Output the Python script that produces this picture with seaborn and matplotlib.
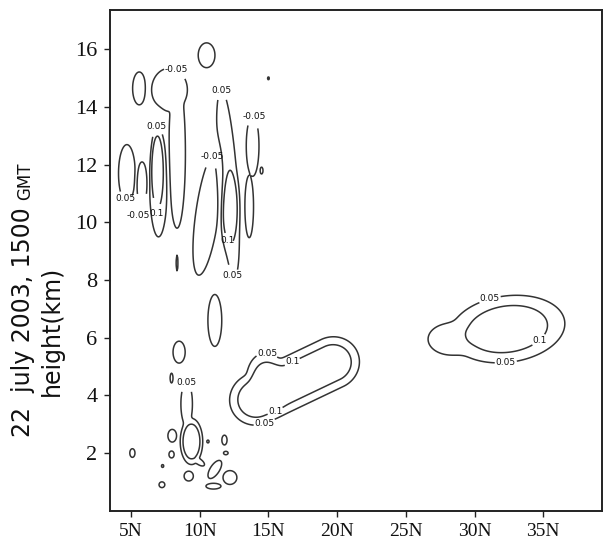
import numpy as np
import matplotlib
matplotlib.use("Agg")
import matplotlib.pyplot as plt
import seaborn as sns

# contour blobs:
# centre (deg N, km), half axes of the outer contour (km, 1 deg N ~ 0.476 km on screen),
# straight middle part along the first axis (km), tilt of the first axis (deg), peak value
blob_lat    = [10.5, 5.6, 8.35, 7.8, 4.7, 5.8, 7.0, 6.92, 10.55, 12.05, 12.2,
               13.85, 13.6, 14.5, 15.0, 8.35, 11.1, 8.5, 7.95, 9.4, 9.05,
               8.0, 5.1, 7.95, 7.25, 9.2, 11.8, 11.9, 11.1, 12.2, 11.0,
               10.6, 7.3, 16.9, 15.0, 32.4, 28.3, 9.95]
blob_height = [15.8, 14.65, 12.4, 14.6, 11.7, 11.35, 11.35, 11.8, 10.3, 11.35, 10.5,
               12.65, 10.55, 11.8, 15.0, 8.6, 6.6, 5.5, 4.6, 2.4, 3.7,
               2.6, 2.0, 1.95, 0.9, 1.2, 2.45, 2.0, 1.43, 1.15, 0.85,
               2.4, 1.55, 4.5, 4.4, 6.3, 5.95, 1.7]
blob_semi_u = [0.29, 0.23, 2.6, 0.62, 0.29, 0.19, 0.31, 0.24, 2.15, 3.25, 0.34,
               0.22, 0.15, 0.05, 0.03, 0.03, 0.24, 0.21, 0.05, 0.39, 0.2,
               0.15, 0.09, 0.09, 0.1, 0.16, 0.09, 0.08, 0.36, 0.24, 0.26,
               0.04, 0.04, 0.95, 0.75, 2.0, 0.8, 0.22]
blob_semi_v = [0.43, 0.57, 0.29, 0.75, 1.0, 0.75, 1.85, 1.5, 0.4, 0.33, 1.57,
               1.05, 1.08, 0.12, 0.05, 0.28, 0.9, 0.38, 0.17, 0.8, 0.75,
               0.22, 0.15, 0.12, 0.1, 0.17, 0.17, 0.06, 0.16, 0.24, 0.1,
               0.05, 0.05, 0.9, 1.08, 1.15, 0.55, 0.1]
blob_straight = [0, 0, 0, 0, 0, 0, 0, 0, 0, 0, 0,
                 0, 0, 0, 0, 0, 0, 0, 0, 0, 0,
                 0, 0, 0, 0, 0, 0, 0, 0, 0, 0,
                 0, 0, 1.45, 0, 0, 0, 0]
blob_tilt   = [0, 0, 90, 0, 0, 0, 0, 0, 82, 94, 0,
               0, 0, 0, 0, 0, 0, 0, 0, 0, 0,
               0, 0, 0, 0, 0, 0, 0, 57, 0, 0,
               0, 0, 25.5, 10, 8, 0, -35]
blob_peak   = [0.08, 0.09, -0.12, -0.1, 0.09, -0.12, 0.09, 0.15, -0.1, 0.09, 0.124,
               -0.15, -0.15, 0.09, 0.09, 0.09, 0.09, 0.09, 0.09, 0.138, 0.07,
               0.09, 0.09, 0.09, 0.09, 0.09, 0.09, 0.09, 0.09, 0.09, 0.09,
               0.09, 0.09, 0.124, 0.124, 0.124, 0.07, 0.07]

levels = [-0.05, 0.05, 0.1]
level_text = {-0.05: "-0.05", 0.05: "0.05", 0.1: "0.1"}

lat_ticks = [5, 10, 15, 20, 25, 30, 35]
lat_labels = ["5N", "10N", "15N", "20N", "25N", "30N", "35N"]
height_ticks = [2, 4, 6, 8, 10, 12, 14, 16]

ASPECT = 13.74 / 28.85   # screen size of 1 deg N in km units

lat = np.linspace(3.4, 39.3, 720)
hgt = np.linspace(0, 17.4, 870)
X, Y = np.meshgrid(lat, hgt)
pos = np.zeros_like(X)
neg = np.zeros_like(X)
for cx, cy, su, sv, st, tilt, peak in zip(blob_lat, blob_height, blob_semi_u,
                                          blob_semi_v, blob_straight, blob_tilt,
                                          blob_peak):
    th = np.deg2rad(tilt)
    dx = (X - cx) * ASPECT
    dy = Y - cy
    u = dx * np.cos(th) + dy * np.sin(th)
    v = -dx * np.sin(th) + dy * np.cos(th)
    u = np.sign(u) * np.maximum(np.abs(u) - st, 0)
    q = (u / su) ** 2 + (v / sv) ** 2
    # flat-topped bump, equal to +-0.05 on the outline
    bump = abs(peak) * np.exp(-np.log(abs(peak) / 0.05) * q ** 2)
    if peak > 0:
        pos += bump ** 4
    else:
        neg += bump ** 4
# soft union of the bumps
field = pos ** 0.25 - neg ** 0.25

sns.set_style("ticks")
plt.rcParams["contour.negative_linestyle"] = "solid"

fig = plt.figure(figsize=(6.06, 5.5), dpi=100)
ax = fig.add_axes([0.1815, 0.0715, 0.8115, 0.9103])

cs = ax.contour(X, Y, field, levels=levels, colors="#333333", linewidths=1.1)
label_spots = [(8.4, 15.4), (6.9, 13.3), (4.55, 10.72), (5.8, 10.6), (6.92, 10.6),
               (11.6, 14.6), (14.0, 13.7), (11.0, 12.45), (12.2, 9.4), (12.3, 8.15),
               (9.05, 4.45), (14.9, 5.5), (17.0, 4.9), (15.5, 3.45), (14.8, 2.9),
               (31.2, 7.2), (34.9, 5.8), (32.3, 5.0)]
label_nudge = {2: (0.0, 0.1), 3: (-0.3, -0.35), 4: (0.1, -0.25)}
labels = ax.clabel(cs, levels=levels, fmt=level_text, fontsize=6.5, inline=True,
                   inline_spacing=1, manual=label_spots)
for i, t in enumerate(labels):
    t.set_rotation(0)
    t.set_color("#111111")
    if i in label_nudge:
        x0, y0 = t.get_position()
        t.set_position((x0 + label_nudge[i][0], y0 + label_nudge[i][1]))

ax.set_xlim(3.47, 39.26)
ax.set_ylim(0, 17.37)
ax.set_xticks(lat_ticks)
ax.set_xticklabels(lat_labels)
ax.set_yticks(height_ticks)
for s in ax.spines.values():
    s.set_color("#222222")
    s.set_linewidth(1.4)
ax.tick_params(direction="out", length=4, width=1, color="#222222", pad=5)
for t in ax.get_xticklabels():
    t.set_family("Liberation Serif")
    t.set_fontsize(14)
    t.set_color("#111111")
for t in ax.get_yticklabels():
    t.set_family("Liberation Serif")
    t.set_fontsize(16)
    t.set_color("#111111")

fig.text(30 / 606, 1 - 437 / 550, "22  july 2003, 1500", rotation=90,
         rotation_mode="anchor", ha="left", va="baseline",
         family="DejaVu Sans", fontsize=17, color="#111111")
fig.text(30 / 606, 1 - 200 / 550, "GMT", rotation=90,
         rotation_mode="anchor", ha="left", va="baseline",
         family="DejaVu Sans", fontsize=12, color="#111111")
fig.text(59 / 606, 1 - 396 / 550, "height(km)", rotation=90,
         rotation_mode="anchor", ha="left", va="baseline",
         family="DejaVu Sans", fontsize=17, color="#111111")

fig.savefig("out.png", dpi=100, facecolor="white")
